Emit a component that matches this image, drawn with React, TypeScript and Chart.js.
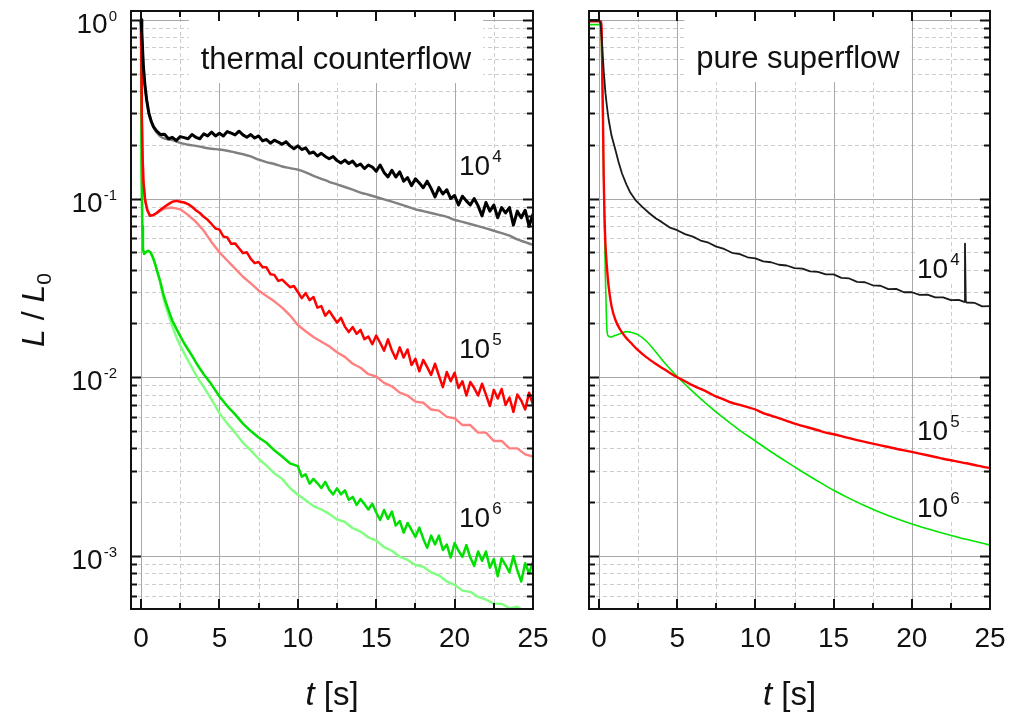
import React, { useEffect, useRef } from "react";
import { Chart, registerables } from "chart.js";

Chart.register(...registerables);

type P = [number, number];

// ---------- axes ----------
const X_MIN = -0.64;
const X_MAX = 25;
const Y_MIN = 5.05e-4;
const Y_MAX = 1.12;
const X_MAJOR = [0, 5, 10, 15, 20, 25];
const X_MINOR = [2.5, 7.5, 12.5, 17.5, 22.5];
const X_LABELS = ["0", "5", "10", "15", "20", "25"];
const Y_MAJOR = [1e-3, 1e-2, 1e-1, 1];
const Y_EXPONENTS = ["-3", "-2", "-1", "0"];
const Y_MINOR_DECADES = [1e-4, 1e-3, 1e-2, 1e-1];
const Y_MINOR_MULT = [2, 3, 4, 5, 6, 7, 8, 9];

// ---------- thermal counterflow ----------
const CF_1E4: P[] = [[0,1],[0.05,0.85],[0.1,0.68],[0.15,0.55],[0.25,0.43],[0.36,0.356],[0.5,0.3],[0.65,0.27],[0.8,0.252],[1,0.238],[1.25,0.228],[1.5,0.229],[1.75,0.216],[2,0.22],[2.25,0.211],[2.5,0.222],[2.75,0.219],[3,0.216],[3.25,0.228],[3.5,0.22],[3.75,0.216],[4,0.23],[4.25,0.224],[4.5,0.235],[4.75,0.224],[5,0.232],[5.25,0.224],[5.5,0.237],[5.75,0.232],[6,0.227],[6.25,0.238],[6.5,0.227],[6.75,0.22],[7,0.228],[7.25,0.218],[7.5,0.224],[7.75,0.21],[8,0.214],[8.25,0.204],[8.5,0.212],[8.75,0.207],[9,0.201],[9.25,0.208],[9.5,0.197],[9.75,0.19],[10,0.197],[10.25,0.188],[10.5,0.192],[10.75,0.179],[11,0.182],[11.25,0.173],[11.5,0.179],[11.75,0.172],[12,0.167],[12.25,0.172],[12.5,0.163],[12.75,0.158],[13,0.164],[13.25,0.157],[13.5,0.162],[13.75,0.152],[14,0.156],[14.25,0.147],[14.5,0.154],[14.75,0.15],[15,0.142],[15.25,0.154],[15.5,0.14],[15.75,0.132],[16,0.144],[16.25,0.132],[16.5,0.141],[16.75,0.125],[17,0.131],[17.25,0.118],[17.5,0.129],[17.75,0.122],[18,0.115],[18.25,0.125],[18.5,0.114],[18.75,0.102],[19,0.115],[19.25,0.106],[19.5,0.112],[19.75,0.1],[20,0.104],[20.25,0.092],[20.5,0.103],[20.75,0.097],[21,0.092],[21.25,0.1],[21.5,0.091],[21.75,0.08],[22,0.095],[22.25,0.085],[22.5,0.092],[22.75,0.078],[23,0.089],[23.25,0.083],[23.5,0.089],[23.75,0.071],[24,0.085],[24.25,0.078],[24.5,0.086],[24.75,0.07],[25,0.082]];
const CF_1E4_B: P[] = [[0,1],[0.05,0.85],[0.1,0.68],[0.15,0.55],[0.25,0.43],[0.36,0.356],[0.5,0.3],[0.65,0.27],[0.8,0.25],[1,0.234],[1.25,0.222],[1.5,0.216],[2,0.212],[2.5,0.205],[3,0.2],[3.5,0.197],[4,0.193],[4.5,0.19],[5,0.188],[5.5,0.185],[6,0.181],[6.5,0.177],[7,0.172],[7.5,0.165],[8,0.16],[8.5,0.156],[9,0.151],[9.5,0.148],[10,0.145],[10.5,0.14],[11,0.134],[11.5,0.129],[12,0.124],[12.5,0.12],[13,0.116],[13.5,0.112],[14,0.108],[14.5,0.105],[15,0.102],[15.5,0.099],[16,0.096],[16.5,0.093],[17,0.09],[17.5,0.087],[18,0.085],[18.5,0.083],[19,0.081],[19.5,0.079],[20,0.076],[20.5,0.074],[21,0.072],[21.5,0.07],[22,0.068],[22.5,0.066],[23,0.064],[23.5,0.062],[24,0.059],[24.5,0.057],[25,0.055]];
const CF_1E5: P[] = [[0,1],[0.03,0.6],[0.06,0.3],[0.1,0.17],[0.15,0.125],[0.26,0.098],[0.4,0.086],[0.58,0.08],[0.8,0.081],[1,0.083],[1.2,0.086],[1.5,0.09],[1.75,0.093],[2,0.096],[2.25,0.097],[2.5,0.096],[2.75,0.095],[3,0.093],[3.25,0.09],[3.5,0.086],[3.75,0.083],[4,0.079],[4.25,0.076],[4.5,0.072],[4.75,0.068],[5,0.067],[5.25,0.0613],[5.5,0.0606],[5.75,0.0558],[6,0.0561],[6.25,0.0527],[6.5,0.0495],[6.75,0.05],[7,0.046],[7.25,0.0435],[7.5,0.0442],[7.75,0.0412],[8,0.0412],[8.25,0.0377],[8.5,0.0374],[8.75,0.0346],[9,0.0352],[9.25,0.0335],[9.5,0.0319],[9.75,0.0324],[10,0.03],[10.25,0.0277],[10.5,0.0296],[10.75,0.027],[11,0.0281],[11.25,0.0245],[11.5,0.025],[11.75,0.0221],[12,0.0235],[12.25,0.0218],[12.5,0.0202],[12.75,0.0215],[13,0.0192],[13.25,0.0179],[13.5,0.0191],[13.75,0.0175],[14,0.0184],[14.25,0.0163],[14.5,0.0169],[14.75,0.0153],[15,0.0171],[15.25,0.0156],[15.5,0.0141],[15.75,0.0163],[16,0.0141],[16.25,0.0127],[16.5,0.0147],[16.75,0.0129],[17,0.0143],[17.25,0.0117],[17.5,0.0127],[17.75,0.0108],[18,0.0125],[18.25,0.0114],[18.5,0.0103],[18.75,0.0119],[19,0.0102],[19.25,0.0088],[19.5,0.0107],[19.75,0.0095],[20,0.0106],[20.25,0.0087],[20.5,0.0095],[20.75,0.0079],[21,0.0094],[21.25,0.0087],[21.5,0.0079],[21.75,0.0092],[22,0.008],[22.25,0.0069],[22.5,0.0085],[22.75,0.0076],[23,0.0086],[23.25,0.007],[23.5,0.0077],[23.75,0.0064],[24,0.008],[24.25,0.0074],[24.5,0.0066],[24.75,0.0082],[25,0.007]];
const CF_1E5_B: P[] = [[0,1],[0.03,0.6],[0.06,0.3],[0.1,0.17],[0.15,0.125],[0.26,0.098],[0.4,0.086],[0.58,0.08],[0.8,0.081],[1,0.083],[1.2,0.085],[1.5,0.088],[2,0.089],[2.5,0.087],[3,0.081],[3.5,0.074],[4,0.066],[4.5,0.057],[5,0.05],[5.5,0.045],[6,0.0405],[6.5,0.0365],[7,0.0335],[7.5,0.0306],[8,0.0285],[8.5,0.0266],[9,0.0245],[9.5,0.0222],[10,0.0196],[10.5,0.0181],[11,0.0168],[11.5,0.0158],[12,0.0149],[12.5,0.0138],[13,0.013],[13.5,0.0119],[14,0.0113],[14.5,0.0104],[15,0.0101],[15.5,0.0093],[16,0.0089],[16.5,0.0082],[17,0.0079],[17.5,0.0073],[18,0.0072],[18.5,0.0066],[19,0.0065],[19.5,0.006],[20,0.0059],[20.5,0.0054],[21,0.0054],[21.5,0.0049],[22,0.0049],[22.5,0.0044],[23,0.0044],[23.5,0.004],[24,0.004],[24.5,0.0037],[25,0.0036]];
const CF_1E6: P[] = [[0,1],[0.02,0.5],[0.05,0.15],[0.08,0.07],[0.12,0.052],[0.2,0.049],[0.3,0.05],[0.45,0.051],[0.6,0.05],[0.75,0.047],[0.9,0.043],[1,0.04],[1.2,0.035],[1.43,0.029],[1.6,0.026],[1.85,0.0225],[2,0.0207],[2.25,0.0187],[2.5,0.017],[2.75,0.0155],[3,0.0143],[3.25,0.0132],[3.5,0.0121],[3.75,0.0112],[4,0.0104],[4.5,0.0091],[5,0.0078],[5.5,0.0069],[6,0.0062],[6.5,0.0055],[7,0.005],[7.5,0.0046],[8,0.0043],[8.5,0.0039],[9,0.0036],[9.5,0.0033],[10,0.00318],[10.25,0.00278],[10.5,0.00286],[10.75,0.00254],[11,0.0027],[11.25,0.00255],[11.5,0.0024],[11.75,0.0026],[12,0.00235],[12.25,0.00221],[12.5,0.00239],[12.75,0.00221],[13,0.00233],[13.25,0.00206],[13.5,0.00214],[13.75,0.00193],[14,0.00208],[14.25,0.00195],[14.5,0.00182],[14.75,0.00196],[15,0.00175],[15.25,0.00159],[15.5,0.00181],[15.75,0.00161],[16,0.00177],[16.25,0.00148],[16.5,0.00157],[16.75,0.00135],[17,0.00153],[17.25,0.0014],[17.5,0.00128],[17.75,0.00144],[18,0.00125],[18.25,0.00111],[18.5,0.0013],[18.75,0.00116],[19,0.0013],[19.25,0.00108],[19.5,0.00116],[19.75,0.00098],[20,0.00118],[20.25,0.00107],[20.5,0.00099],[20.75,0.00115],[21,0.00098],[21.25,0.00088],[21.5,0.00106],[21.75,0.00094],[22,0.00106],[22.25,0.00086],[22.5,0.00096],[22.75,0.00077],[23,0.00097],[23.25,0.00089],[23.5,0.00081],[23.75,0.001],[24,0.00083],[24.25,0.00072],[24.5,0.00091],[24.75,0.0008],[25,0.00093]];
const CF_1E6_B: P[] = [[0,1],[0.02,0.5],[0.05,0.15],[0.08,0.07],[0.12,0.052],[0.2,0.049],[0.3,0.05],[0.45,0.051],[0.6,0.05],[0.75,0.047],[0.9,0.043],[1,0.04],[1.2,0.0345],[1.43,0.0275],[1.6,0.0245],[1.85,0.021],[2,0.0192],[2.25,0.0168],[2.5,0.015],[2.75,0.0136],[3,0.0124],[3.25,0.0113],[3.5,0.0103],[3.75,0.0095],[4,0.0088],[4.5,0.0075],[5,0.0063],[5.5,0.0055],[6,0.0049],[6.5,0.0043],[7,0.0039],[7.5,0.0035],[8,0.0032],[8.5,0.0029],[9,0.0027],[9.5,0.0024],[10,0.0022],[10.5,0.00205],[11,0.0019],[11.5,0.00182],[12,0.00172],[12.5,0.0016],[13,0.00155],[13.5,0.00143],[14,0.00137],[14.5,0.00127],[15,0.00122],[15.5,0.00112],[16,0.00107],[16.5,0.00099],[17,0.00095],[17.5,0.00089],[18,0.00087],[18.5,0.00081],[19,0.00078],[19.5,0.00072],[20,0.00069],[20.5,0.00064],[21,0.00063],[21.5,0.00059],[22,0.00057],[22.5,0.00054],[23,0.00054],[23.5,0.00051],[24,0.00052],[24.5,0.00049],[25,0.0005]];

// ---------- pure superflow ----------
const SF_1E4: P[] = [[-0.6,1],[0,1],[0.1,0.95],[0.19,0.74],[0.3,0.52],[0.41,0.39],[0.52,0.32],[0.62,0.275],[0.8,0.225],[1.05,0.187],[1.25,0.16],[1.47,0.138],[1.75,0.12],[2,0.108],[2.33,0.098],[2.75,0.09],[3.2,0.083],[3.62,0.0775],[4,0.074],[4.5,0.069],[5,0.0665],[5.5,0.0632],[6,0.0612],[6.5,0.0582],[7,0.0566],[7.5,0.0538],[8,0.0522],[8.5,0.0497],[9,0.0489],[9.5,0.0469],[10,0.0463],[10.5,0.0445],[11,0.044],[11.5,0.0426],[12,0.0422],[12.5,0.0408],[13,0.0405],[13.5,0.0391],[14,0.0389],[14.5,0.0376],[15,0.0376],[15.5,0.036],[16,0.0357],[16.5,0.0342],[17,0.034],[17.5,0.0327],[18,0.0325],[18.5,0.0311],[19,0.0312],[19.5,0.0299],[20,0.0299],[20.5,0.0289],[21,0.029],[21.5,0.028],[22,0.028],[22.5,0.027],[23,0.0271],[23.35,0.0264],[23.4,0.056],[23.45,0.0266],[23.5,0.0262],[24,0.0261],[24.5,0.0249],[25,0.025]];
const SF_1E5: P[] = [[-0.6,0.98],[0.15,0.98],[0.2,0.6],[0.25,0.3],[0.3,0.132],[0.35,0.08],[0.41,0.056],[0.5,0.042],[0.62,0.032],[0.8,0.025],[1.05,0.0209],[1.35,0.0185],[1.69,0.0168],[2,0.0157],[2.44,0.0143],[3,0.013],[3.62,0.0119],[4.3,0.0109],[5,0.01],[5.5,0.0095],[6,0.009],[6.5,0.0086],[7,0.0082],[7.5,0.0078],[8,0.0075],[8.5,0.0072],[9,0.007],[9.5,0.0068],[10,0.0066],[10.5,0.0063],[11,0.0061],[11.5,0.0059],[12,0.0057],[12.5,0.0055],[13,0.00535],[13.5,0.0052],[14,0.00505],[14.5,0.0049],[15,0.0048],[15.5,0.00468],[16,0.00456],[16.5,0.00445],[17,0.00435],[17.5,0.00425],[18,0.00416],[18.5,0.00407],[19,0.00398],[19.5,0.0039],[20,0.00382],[20.5,0.00374],[21,0.00366],[21.5,0.00358],[22,0.0035],[22.5,0.00343],[23,0.00336],[23.5,0.0033],[24,0.00323],[24.5,0.00316],[25,0.0031]];
const SF_1E6: P[] = [[-0.6,0.94],[0.1,0.94],[0.15,0.8],[0.19,0.48],[0.25,0.25],[0.3,0.132],[0.36,0.065],[0.41,0.036],[0.46,0.024],[0.51,0.0183],[0.6,0.017],[0.73,0.0168],[1,0.0171],[1.26,0.0174],[1.5,0.0178],[1.8,0.018],[2.1,0.0178],[2.54,0.0172],[3,0.016],[3.62,0.0139],[4.2,0.012],[5,0.0101],[6,0.0083],[7,0.00694],[8,0.00588],[9,0.00505],[10,0.0044],[11,0.00383],[12,0.00336],[13,0.00296],[14,0.00262],[15,0.00233],[16,0.0021],[17,0.00191],[18,0.00175],[19,0.00162],[20,0.00151],[21,0.00142],[22,0.00134],[23,0.00127],[24,0.00121],[25,0.00115]];

const PANEL_TITLES = ["thermal counterflow", "pure superflow"];
const CURVE_EXPONENTS = ["4", "5", "6"];

const FONT = '"Liberation Sans", Arial, Helvetica, sans-serif';

interface Series { points: P[]; color: string; width: number; smooth?: boolean; }
interface CurveLabel { exp: string; x: number; baseline: number; }
interface PanelSpec {
  padding: { left: number; right: number; top: number; bottom: number };
  title: string;
  titleCx: number;
  titleBaseline: number;
  labels: CurveLabel[];
  yLabels: boolean;
}

function labelBox(ctx: CanvasRenderingContext2D, l: CurveLabel) {
  ctx.font = `28px ${FONT}`;
  const w1 = ctx.measureText("10").width;
  ctx.font = `17px ${FONT}`;
  const w2 = ctx.measureText(l.exp).width;
  return { x: l.x - 2, y: l.baseline - 26, w: w1 + w2 + 6, h: 30, w1 };
}

function makeDecor(spec: PanelSpec) {
  return {
    id: "decor",
    beforeDatasetsDraw(chart: any) {
      const { ctx, chartArea: a } = chart;
      const xs = chart.scales.x;
      const ys = chart.scales.y;
      ctx.save();
      ctx.fillStyle = "#ffffff";
      ctx.fillRect(a.left, a.top, a.right - a.left, a.bottom - a.top);
      ctx.lineWidth = 1;
      ctx.setLineDash([4, 3]);
      ctx.strokeStyle = "#cccccc";
      ctx.beginPath();
      for (const v of X_MINOR) {
        const px = Math.round(xs.getPixelForValue(v)) + 0.5;
        ctx.moveTo(px, a.top);
        ctx.lineTo(px, a.bottom);
      }
      for (const d of Y_MINOR_DECADES) {
        for (const m of Y_MINOR_MULT) {
          const v = d * m;
          if (v <= Y_MIN || v >= Y_MAX) continue;
          const py = Math.round(ys.getPixelForValue(v)) + 0.5;
          ctx.moveTo(a.left, py);
          ctx.lineTo(a.right, py);
        }
      }
      ctx.stroke();
      ctx.setLineDash([]);
      ctx.strokeStyle = "#a8a8a8";
      ctx.beginPath();
      for (const v of X_MAJOR) {
        const px = Math.round(xs.getPixelForValue(v)) + 0.5;
        ctx.moveTo(px, a.top);
        ctx.lineTo(px, a.bottom);
      }
      for (const v of Y_MAJOR) {
        const py = Math.round(ys.getPixelForValue(v)) + 0.5;
        ctx.moveTo(a.left, py);
        ctx.lineTo(a.right, py);
      }
      ctx.stroke();
      ctx.fillStyle = "#ffffff";
      ctx.font = `31px ${FONT}`;
      const tw = ctx.measureText(spec.title).width;
      ctx.fillRect(spec.titleCx - tw / 2 - 12, a.top + 2, tw + 24, spec.titleBaseline + 14 - a.top - 2);
      for (const l of spec.labels) {
        const b = labelBox(ctx, l);
        ctx.fillRect(b.x, b.y, b.w, b.h);
      }
      ctx.restore();
    },
    afterDatasetsDraw(chart: any) {
      const { ctx, chartArea: a } = chart;
      const xs = chart.scales.x;
      const ys = chart.scales.y;
      ctx.save();
      ctx.strokeStyle = "#111111";
      ctx.lineWidth = 2;
      ctx.strokeRect(a.left, a.top, a.right - a.left, a.bottom - a.top);
      ctx.beginPath();
      const xt = (v: number, len: number) => {
        const px = Math.round(xs.getPixelForValue(v));
        ctx.moveTo(px, a.bottom);
        ctx.lineTo(px, a.bottom - len);
        ctx.moveTo(px, a.top);
        ctx.lineTo(px, a.top + len);
      };
      const yt = (v: number, len: number) => {
        const py = Math.round(ys.getPixelForValue(v)) + 0.5;
        ctx.moveTo(a.left, py);
        ctx.lineTo(a.left + len, py);
        ctx.moveTo(a.right, py);
        ctx.lineTo(a.right - len, py);
      };
      X_MAJOR.forEach((v) => xt(v, 10));
      X_MINOR.forEach((v) => xt(v, 6));
      Y_MAJOR.forEach((v) => yt(v, 10));
      for (const d of Y_MINOR_DECADES) {
        for (const m of Y_MINOR_MULT) {
          const v = d * m;
          if (v <= Y_MIN || v >= Y_MAX) continue;
          yt(v, 6);
        }
      }
      ctx.stroke();

      ctx.fillStyle = "#111111";
      ctx.textBaseline = "alphabetic";
      ctx.font = `28px ${FONT}`;
      ctx.textAlign = "center";
      X_MAJOR.forEach((v, i) => {
        ctx.fillText(X_LABELS[i], xs.getPixelForValue(v), 647);
      });
      if (spec.yLabels) {
        ctx.textAlign = "left";
        Y_MAJOR.forEach((v, i) => {
          const py = ys.getPixelForValue(v);
          ctx.font = `15px ${FONT}`;
          const sw = ctx.measureText(Y_EXPONENTS[i]).width;
          ctx.font = `28px ${FONT}`;
          const bw = ctx.measureText("10").width;
          const right = a.left - 14;
          const sx = right - sw;
          ctx.fillText("10", sx - 1 - bw, py + 13);
          ctx.font = `15px ${FONT}`;
          ctx.fillText(Y_EXPONENTS[i], sx, py + 1);
        });
        ctx.save();
        ctx.translate(44, (a.top + a.bottom) / 2);
        ctx.rotate(-Math.PI / 2);
        const parts: [string, string][] = [
          ["L", `italic 32px ${FONT}`],
          [" / ", `32px ${FONT}`],
          ["L", `italic 32px ${FONT}`],
        ];
        let total = 0;
        for (const [t, f] of parts) { ctx.font = f; total += ctx.measureText(t).width; }
        ctx.font = `21px ${FONT}`;
        total += ctx.measureText("0").width;
        let x = -total / 2;
        for (const [t, f] of parts) {
          ctx.font = f;
          ctx.fillText(t, x, 0);
          x += ctx.measureText(t).width;
        }
        ctx.font = `21px ${FONT}`;
        ctx.fillText("0", x, 7);
        ctx.restore();
      }
      {
        const cx = (a.left + a.right) / 2;
        ctx.font = `italic 33px ${FONT}`;
        const w1 = ctx.measureText("t").width;
        ctx.font = `33px ${FONT}`;
        const w2 = ctx.measureText(" [s]").width;
        const x = cx - (w1 + w2) / 2;
        ctx.textAlign = "left";
        ctx.font = `italic 33px ${FONT}`;
        ctx.fillText("t", x, 705);
        ctx.font = `33px ${FONT}`;
        ctx.fillText(" [s]", x + w1, 705);
      }
      ctx.font = `31px ${FONT}`;
      ctx.textAlign = "center";
      ctx.fillText(spec.title, spec.titleCx, spec.titleBaseline);
      ctx.textAlign = "left";
      for (const l of spec.labels) {
        const b = labelBox(ctx, l);
        ctx.font = `28px ${FONT}`;
        ctx.fillText("10", l.x, l.baseline);
        ctx.font = `17px ${FONT}`;
        ctx.fillText(l.exp, l.x + b.w1 + 2, l.baseline - 13);
      }
      ctx.restore();
    },
  };
}

function makeConfig(series: Series[], spec: PanelSpec): any {
  return {
    type: "line",
    data: {
      datasets: series.map((s) => ({
        data: s.points.map(([x, y]) => ({ x, y })),
        borderColor: s.color,
        borderWidth: s.width,
        pointRadius: 0,
        tension: s.smooth ? 0.4 : 0,
        cubicInterpolationMode: s.smooth ? "monotone" : "default",
        fill: false,
        clip: 0,
        borderJoinStyle: "round",
      })),
    },
    options: {
      responsive: false,
      animation: false,
      devicePixelRatio: 1,
      events: [],
      layout: { padding: spec.padding },
      scales: {
        x: { type: "linear", min: X_MIN, max: X_MAX, display: false },
        y: { type: "logarithmic", min: Y_MIN, max: Y_MAX, display: false },
      },
      plugins: { legend: { display: false }, tooltip: { enabled: false } },
    },
    plugins: [makeDecor(spec)],
  };
}

export default function App() {
  const leftRef = useRef<HTMLCanvasElement>(null);
  const rightRef = useRef<HTMLCanvasElement>(null);

  useEffect(() => {
    const left = new Chart(
      leftRef.current!,
      makeConfig(
        [
          { points: CF_1E4, color: "#000000", width: 3 },
          { points: CF_1E5, color: "#ff0000", width: 2.5 },
          { points: CF_1E6, color: "#00e000", width: 2.5 },
          { points: CF_1E4_B, color: "#808080", width: 2.4, smooth: true },
          { points: CF_1E5_B, color: "#ff8080", width: 2.4 },
          { points: CF_1E6_B, color: "#80ff80", width: 2.4 },
        ],
        {
          padding: { left: 131, right: 27, top: 11, bottom: 109 },
          title: PANEL_TITLES[0],
          titleCx: 336,
          titleBaseline: 69,
          labels: [
            { exp: CURVE_EXPONENTS[0], x: 459, baseline: 175 },
            { exp: CURVE_EXPONENTS[1], x: 459, baseline: 358 },
            { exp: CURVE_EXPONENTS[2], x: 459, baseline: 527 },
          ],
          yLabels: true,
        }
      )
    );
    const right = new Chart(
      rightRef.current!,
      makeConfig(
        [
          { points: SF_1E4, color: "#1a1a1a", width: 1.8 },
          { points: SF_1E5, color: "#ff0000", width: 2.4, smooth: true },
          { points: SF_1E6, color: "#00e600", width: 1.6, smooth: true },
        ],
        {
          padding: { left: 29, right: 19, top: 11, bottom: 109 },
          title: PANEL_TITLES[1],
          titleCx: 238,
          titleBaseline: 68,
          labels: [
            { exp: CURVE_EXPONENTS[0], x: 357, baseline: 278 },
            { exp: CURVE_EXPONENTS[1], x: 357, baseline: 440 },
            { exp: CURVE_EXPONENTS[2], x: 357, baseline: 517 },
          ],
          yLabels: false,
        }
      )
    );
    return () => {
      left.destroy();
      right.destroy();
    };
  }, []);

  return (
    <div style={{ position: "fixed", left: 0, top: 0, width: 1009, height: 718, background: "#ffffff" }}>
      <canvas ref={leftRef} width={560} height={718} style={{ position: "absolute", left: 0, top: 0, width: 560, height: 718 }} />
      <canvas ref={rightRef} width={449} height={718} style={{ position: "absolute", left: 560, top: 0, width: 449, height: 718 }} />
    </div>
  );
}
